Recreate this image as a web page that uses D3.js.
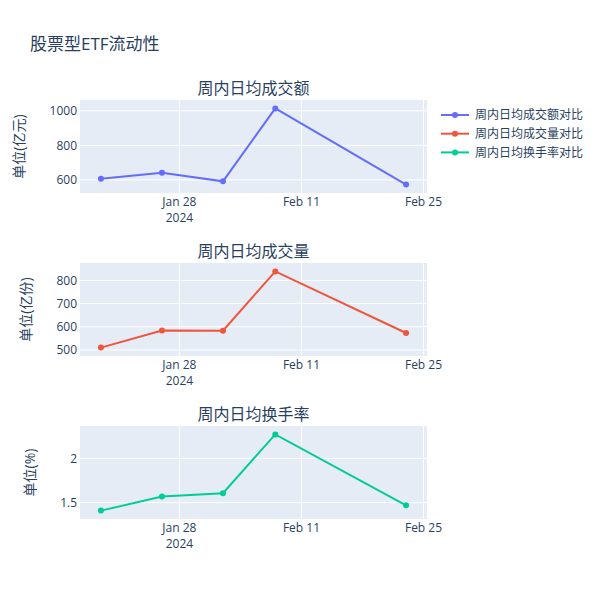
<!DOCTYPE html>
<html lang="zh">
<head>
<meta charset="utf-8">
<title>股票型ETF流动性</title>
<script src="https://cdn.jsdelivr.net/npm/d3@7"></script>
<style>
body { margin: 0; background: #fff; }
text { font-family: "Open Sans", "Noto Sans CJK SC", sans-serif; fill: #2a3f5f; }
</style>
</head>
<body>
<script>
// data
var dates = ["2024-01-19", "2024-01-26", "2024-02-02", "2024-02-08", "2024-02-23"];
var amount = [607, 642, 592, 1014, 573];     // 亿元
var volume = [510, 584, 583, 839, 573];      // 亿份
var turnover = [1.41, 1.57, 1.607, 2.27, 1.47]; // %
var xTicks = ["2024-01-28", "2024-02-11", "2024-02-25"];

var panels = [
  { title: "周内日均成交额", ytitle: "单位(亿元)", legend: "周内日均成交额对比", values: amount, color: "#636efa", top: 100, ticks: [600, 800, 1000] },
  { title: "周内日均成交量", ytitle: "单位(亿份)", legend: "周内日均成交量对比", values: volume, color: "#EF553B", top: 263, ticks: [500, 600, 700, 800] },
  { title: "周内日均换手率", ytitle: "单位(%)", legend: "周内日均换手率对比", values: turnover, color: "#00cc96", top: 426, ticks: [1.5, 2] }
];

var w = 600, h = 600;
var left = 80, right = 427, ph = 93;

var parse = d3.timeParse("%Y-%m-%d");
var dts = dates.map(parse);

var svg = d3.select("body").append("svg")
  .attr("width", w).attr("height", h);

svg.append("rect").attr("width", w).attr("height", h).attr("fill", "#fff");

svg.append("text")
  .attr("x", 30).attr("y", 50)
  .style("font-size", "17px")
  .text("股票型ETF流动性");

var pad = 2.4 * 864e5;
var x = d3.scaleTime()
  .domain([new Date(d3.min(dts).getTime() - pad), new Date(d3.max(dts).getTime() + pad)])
  .range([left, right]);

var fmt = d3.timeFormat("%b %-d");

panels.forEach(function(p) {
  var ext = d3.extent(p.values);
  var span = ext[1] - ext[0];
  var y = d3.scaleLinear()
    .domain([ext[0] - span * 0.11, ext[1] + span * 0.11])
    .range([p.top + ph, p.top]);

  var g = svg.append("g");

  g.append("rect")
    .attr("x", left).attr("y", p.top)
    .attr("width", right - left).attr("height", ph)
    .attr("fill", "#E5ECF6");

  // grid
  g.selectAll(".gx").data(xTicks.map(parse)).enter().append("line")
    .attr("x1", function(d) { return x(d); }).attr("x2", function(d) { return x(d); })
    .attr("y1", p.top).attr("y2", p.top + ph)
    .attr("stroke", "#fff").attr("stroke-width", 1);
  g.selectAll(".gy").data(p.ticks).enter().append("line")
    .attr("x1", left).attr("x2", right)
    .attr("y1", function(d) { return y(d); }).attr("y2", function(d) { return y(d); })
    .attr("stroke", "#fff").attr("stroke-width", 1);

  // y tick labels
  var ty = g.selectAll(".ty").data(p.ticks).enter().append("text")
    .attr("x", left - 3).attr("y", function(d) { return y(d); })
    .attr("dy", "0.35em")
    .attr("text-anchor", "end")
    .style("font-size", "12px")
    .text(function(d) { return d; });

  // x tick labels
  g.selectAll(".tx").data(xTicks.map(parse)).enter().append("text")
    .attr("x", function(d) { return x(d); }).attr("y", p.top + ph + 13)
    .attr("text-anchor", "middle")
    .style("font-size", "12px")
    .text(function(d) { return fmt(d); });
  g.append("text")
    .attr("x", x(parse(xTicks[0]))).attr("y", p.top + ph + 29)
    .attr("text-anchor", "middle")
    .style("font-size", "12px")
    .text("2024");

  // subplot title
  g.append("text")
    .attr("x", (left + right) / 2).attr("y", p.top - 6)
    .attr("text-anchor", "middle")
    .style("font-size", "16px")
    .text(p.title);

  // y title, placed left of the widest tick label
  var tw = d3.max(ty.nodes(), function(n) { return n.getComputedTextLength(); });
  var yx = left - 3 - tw - 30;
  g.append("text")
    .attr("transform", "translate(" + yx + "," + (p.top + ph / 2) + ") rotate(-90)")
    .attr("text-anchor", "middle")
    .attr("dy", "0.35em")
    .style("font-size", "14px")
    .text(p.ytitle);

  var line = d3.line()
    .x(function(d, i) { return x(dts[i]); })
    .y(function(d) { return y(d); });

  g.append("path")
    .datum(p.values)
    .attr("d", line)
    .attr("fill", "none")
    .attr("stroke", p.color)
    .attr("stroke-width", 2);

  g.selectAll(".pt").data(p.values).enter().append("circle")
    .attr("cx", function(d, i) { return x(dts[i]); })
    .attr("cy", function(d) { return y(d); })
    .attr("r", 3)
    .attr("fill", p.color);
});

// legend
var lg = svg.append("g");
panels.forEach(function(p, i) {
  var ly = 115 + i * 18.7;
  lg.append("line")
    .attr("x1", 441).attr("x2", 469).attr("y1", ly).attr("y2", ly)
    .attr("stroke", p.color).attr("stroke-width", 2);
  lg.append("circle")
    .attr("cx", 455).attr("cy", ly).attr("r", 3).attr("fill", p.color);
  lg.append("text")
    .attr("x", 475).attr("y", ly).attr("dy", "0.35em")
    .style("font-size", "12px")
    .text(p.legend);
});
</script>
</body>
</html>
